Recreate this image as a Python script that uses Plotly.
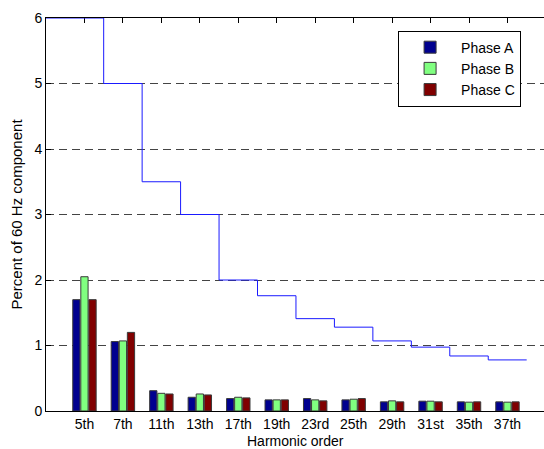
import plotly.graph_objects as go

harmonics = ["5th", "7th", "11th", "13th", "17th", "19th", "23rd", "25th", "29th", "31st", "35th", "37th"]
phase_a = [1.70, 1.06, 0.31, 0.21, 0.19, 0.17, 0.19, 0.17, 0.14, 0.15, 0.14, 0.14]
phase_b = [2.05, 1.07, 0.27, 0.26, 0.21, 0.17, 0.17, 0.18, 0.155, 0.15, 0.135, 0.135]
phase_c = [1.70, 1.20, 0.26, 0.245, 0.20, 0.17, 0.155, 0.19, 0.14, 0.14, 0.14, 0.14]
limits = [6.0, 5.0, 3.5, 3.0, 2.0, 1.76, 1.41, 1.28, 1.07, 0.975, 0.84, 0.78]

x_min, x_max = -1.0, 11.95
idx = list(range(len(harmonics)))

font = dict(family="Arial, Liberation Sans, Helvetica, sans-serif", size=14, color="black")

fig = go.Figure()
for name, vals, col in [("Phase A", phase_a, "#00008F"),
                        ("Phase B", phase_b, "#80FF80"),
                        ("Phase C", phase_c, "#800000")]:
    fig.add_trace(go.Bar(x=idx, y=vals, name=name,
                         marker=dict(color=col, line=dict(color="#3a3a3a", width=1))))

# step limit line: each level spans its category +/- 0.5, first starts at left axis edge
step_x = [x_min] + [i + 0.5 for i in idx]
step_y = limits + [limits[-1]]
fig.add_trace(go.Scatter(x=step_x, y=step_y, mode="lines",
                         line=dict(color="#1a1aff", width=1, shape="hv"),
                         showlegend=False, cliponaxis=False, hoverinfo="skip"))

fig.update_layout(
    width=544, height=449,
    margin=dict(l=46, r=0, t=18, b=38),
    paper_bgcolor="white", plot_bgcolor="white",
    font=font,
    barmode="group", bargap=0.37, bargroupgap=0.1,
    legend=dict(x=0.707, y=0.968, xanchor="left", yanchor="top",
                bordercolor="black", borderwidth=1, bgcolor="white",
                font=dict(size=14), itemwidth=52),
    annotations=[dict(text="Harmonic order", xref="paper", yref="paper", x=0.5, y=0,
                      xanchor="center", yanchor="top", yshift=-21, showarrow=False,
                      borderpad=0, font=dict(size=14))],
)
fig.update_xaxes(range=[x_min, x_max], tickmode="array", tickvals=idx, ticktext=harmonics,
                 ticks="inside", ticklen=5, tickcolor="black", showline=True, linecolor="black",
                 linewidth=1, mirror="ticks", showgrid=False, zeroline=False, layer="below traces")
fig.update_yaxes(range=[0, 6], tickvals=[0, 1, 2, 3, 4, 5, 6], ticks="inside", ticklen=5,
                 tickcolor="black", showline=True, linecolor="black", linewidth=1, mirror=False,
                 showgrid=True, gridcolor="#444444", gridwidth=1, griddash="8px,5px",
                 zeroline=False, layer="below traces",
                 title=dict(text="Percent of 60 Hz component", standoff=8, font=dict(size=15)))

fig.write_html("out.html", config={"displayModeBar": False},
               post_script="document.body.style.margin='0';")
